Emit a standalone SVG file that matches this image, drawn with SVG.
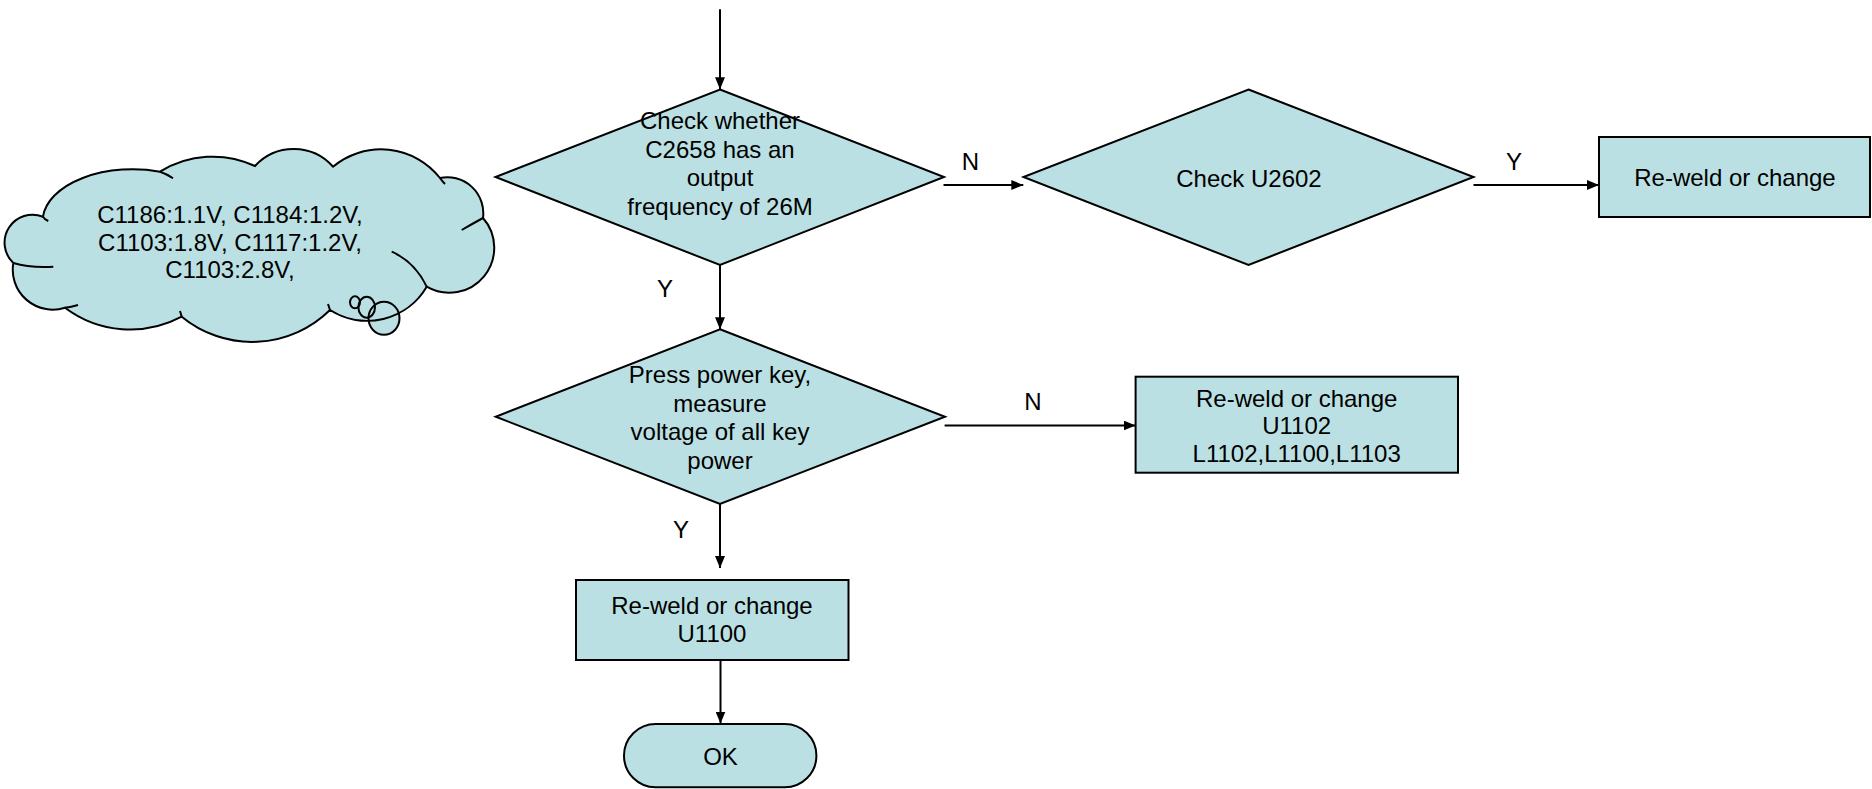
<svg xmlns="http://www.w3.org/2000/svg" width="1872" height="789" viewBox="0 0 1872 789">
<style>
.shape{fill:#BBE0E3;stroke:#000;stroke-width:2}
.fillonly{fill:#BBE0E3;stroke:none}
.inner{fill:none;stroke:#000;stroke-width:2}
.conn{fill:none;stroke:#000;stroke-width:2}
text{font-family:"Liberation Sans",Arial,sans-serif;font-size:24px;fill:#000;text-anchor:middle}
</style>
<defs>
<marker id="arr" markerUnits="userSpaceOnUse" markerWidth="12" markerHeight="10" refX="12" refY="5" orient="auto">
<path d="M0,0 L12,5 L0,10 Z" fill="#000"/>
</marker>
<path id="cloudOutline" d="M13.3,263 A28,28 0 0 1 43,216.7 A90,52 0 0 1 160,171.7 A100,100 0 0 1 255,166 A52.6,52.6 0 0 1 333,166.7 A75,75 0 0 1 440,178 A36,36 0 0 1 483,218 A45,45 0 0 1 426.7,286.7 A69,69 0 0 1 330,310 A111,111 0 0 1 181.7,316.7 A109,109 0 0 1 65,307.7 A40,40 0 0 1 13.3,263 Z"/>
</defs>
<rect width="1872" height="789" fill="#fff"/>

<g id="cloud">
<use href="#cloudOutline" class="fillonly"/>
<ellipse class="fillonly" cx="384" cy="318.3" rx="15.5" ry="16.5"/>
<ellipse class="fillonly" cx="366.7" cy="307.3" rx="8.3" ry="10.5"/>
<ellipse class="fillonly" cx="355" cy="302.3" rx="5" ry="6"/>
<use href="#cloudOutline" class="inner"/>
<path class="inner" d="M43,216.7 Q44,219 48.3,221 M13.3,263 Q30,268 53.3,266.7 M65,307.7 Q71,307 78,305 M160,171.7 Q167,174 173,178.3 M440,178 Q442,181 445,184 M483,218 Q472,224 461.7,230 M426.7,286.7 Q415,262 391.7,251.7 M330,310 Q329,307 328,304 M181.7,316.7 Q181,314 180,311"/>
<ellipse class="inner" cx="384" cy="318.3" rx="15.5" ry="16.5"/>
<ellipse class="inner" cx="366.7" cy="307.3" rx="8.3" ry="10.5"/>
<ellipse class="inner" cx="355" cy="302.3" rx="5" ry="6"/>
<text x="230" y="223">C1186:1.1V, C1184:1.2V,</text>
<text x="230" y="250.5">C1103:1.8V, C1117:1.2V,</text>
<text x="230" y="278">C1103:2.8V,</text>
</g>

<g id="check-c2658">
<polygon class="shape" points="720,89.5 944,177 720,265 495.5,177"/>
<text x="720" y="129">Check whether</text>
<text x="720" y="157.7">C2658 has an</text>
<text x="720" y="186.4">output</text>
<text x="720" y="215">frequency of 26M</text>
</g>

<g id="check-u2602">
<polygon class="shape" points="1248.5,89.5 1473.5,177 1248.5,265 1023.5,177"/>
<text x="1249" y="186.6">Check U2602</text>
</g>

<g id="reweld-top">
<rect class="shape" x="1599" y="137" width="271" height="80"/>
<text x="1735" y="186">Re-weld or change</text>
</g>

<g id="press-power">
<polygon class="shape" points="720,329.3 945,416.7 720,504 495.7,416.7"/>
<text x="720" y="383">Press power key,</text>
<text x="720" y="411.7">measure</text>
<text x="720" y="440.4">voltage of all key</text>
<text x="720" y="469">power</text>
</g>

<g id="reweld-u1102">
<rect class="shape" x="1135.6" y="376.7" width="322.4" height="96"/>
<text x="1296.7" y="406.5">Re-weld or change</text>
<text x="1296.7" y="434">U1102</text>
<text x="1296.7" y="461.5">L1102,L1100,L1103</text>
</g>

<g id="reweld-u1100">
<rect class="shape" x="576" y="580" width="272.5" height="80"/>
<text x="712" y="613.5">Re-weld or change</text>
<text x="712" y="642">U1100</text>
</g>

<g id="ok">
<rect class="shape" x="624" y="724" width="192.4" height="63.3" rx="31.6" ry="31.6"/>
<text x="720.5" y="765">OK</text>
</g>

<g id="connectors">
<line class="conn" x1="720" y1="9.3" x2="720" y2="89.3" marker-end="url(#arr)"/>
<line class="conn" x1="943.5" y1="185" x2="1023.3" y2="185" marker-end="url(#arr)"/>
<line class="conn" x1="1473.5" y1="185" x2="1599" y2="185" marker-end="url(#arr)"/>
<line class="conn" x1="720" y1="265" x2="720" y2="329.3" marker-end="url(#arr)"/>
<line class="conn" x1="944.6" y1="425.5" x2="1135.6" y2="425.5" marker-end="url(#arr)"/>
<line class="conn" x1="720" y1="504" x2="720" y2="568" marker-end="url(#arr)"/>
<line class="conn" x1="720.5" y1="660" x2="720.5" y2="723.5" marker-end="url(#arr)"/>
<text x="970.5" y="170">N</text>
<text x="1514" y="170">Y</text>
<text x="665" y="297">Y</text>
<text x="1033" y="410">N</text>
<text x="681" y="538.3">Y</text>
</g>
</svg>
